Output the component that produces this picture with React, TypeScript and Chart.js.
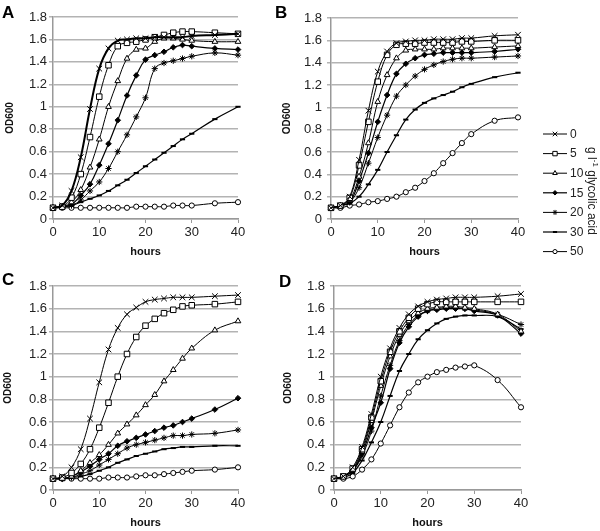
import React, { useEffect, useRef } from "react";
import { Chart, registerables } from "chart.js";
import { drawPoint } from "chart.js/helpers";

Chart.register(...registerables);

// ---------- DATA ----------
const hours = [0, 2, 4, 6, 8, 10, 12, 14, 16, 18, 20, 22, 24, 26, 28, 30, 35, 40];
const concentrations = ["0", "5", "10", "15", "20", "30", "50"];
const xTickStep = 10;
const yTickStep = 0.2;

const panelA = [
  [0.1, 0.12, 0.25, 0.55, 0.98, 1.34, 1.52, 1.59, 1.6, 1.61, 1.61, 1.62, 1.62, 1.62, 1.62, 1.63, 1.64, 1.65],
  [0.1, 0.11, 0.19, 0.4, 0.73, 1.09, 1.37, 1.54, 1.57, 1.58, 1.6, 1.62, 1.64, 1.66, 1.67, 1.67, 1.66, 1.65],
  [0.1, 0.11, 0.15, 0.26, 0.46, 0.71, 1.0, 1.23, 1.43, 1.51, 1.52, 1.58, 1.61, 1.61, 1.6, 1.59, 1.58, 1.58],
  [0.1, 0.11, 0.13, 0.21, 0.31, 0.48, 0.67, 0.88, 1.1, 1.28, 1.42, 1.46, 1.49, 1.53, 1.55, 1.54, 1.52, 1.51],
  [0.1, 0.11, 0.12, 0.17, 0.25, 0.33, 0.45, 0.6, 0.75, 0.91, 1.08, 1.34, 1.39, 1.41, 1.43, 1.45, 1.48, 1.46],
  [0.1, 0.11, 0.12, 0.15, 0.18, 0.21, 0.25, 0.3, 0.35, 0.41, 0.47, 0.53, 0.59, 0.65, 0.71, 0.76, 0.89, 1.0],
  [0.1, 0.1, 0.1, 0.1, 0.1, 0.1, 0.1, 0.1, 0.1, 0.11, 0.11, 0.11, 0.11, 0.12, 0.12, 0.12, 0.14, 0.15],
];

const panelB = [
  [0.1, 0.12, 0.2, 0.53, 0.97, 1.32, 1.5, 1.575, 1.59, 1.6, 1.6, 1.61, 1.61, 1.61, 1.62, 1.62, 1.64, 1.65],
  [0.1, 0.12, 0.19, 0.48, 0.87, 1.23, 1.47, 1.56, 1.57, 1.57, 1.58, 1.58, 1.58, 1.58, 1.59, 1.59, 1.6, 1.6],
  [0.1, 0.12, 0.17, 0.38, 0.68, 1.05, 1.29, 1.44, 1.51, 1.52, 1.52, 1.52, 1.53, 1.53, 1.53, 1.53, 1.54, 1.55],
  [0.1, 0.12, 0.15, 0.34, 0.59, 0.87, 1.11, 1.3, 1.39, 1.44, 1.47, 1.48, 1.49, 1.49, 1.49, 1.49, 1.5, 1.52],
  [0.1, 0.12, 0.15, 0.28, 0.5, 0.73, 0.93, 1.1, 1.2, 1.28, 1.34, 1.38, 1.41, 1.43, 1.44, 1.44, 1.45, 1.46],
  [0.1, 0.12, 0.14, 0.2, 0.31, 0.44, 0.6, 0.75, 0.89, 0.98, 1.04, 1.08, 1.11, 1.14, 1.18, 1.21, 1.27, 1.31],
  [0.1, 0.1, 0.12, 0.13, 0.15, 0.16, 0.18, 0.2, 0.24, 0.28, 0.34, 0.41, 0.5, 0.59, 0.68, 0.76, 0.88, 0.91],
];

const panelC = [
  [0.1, 0.12, 0.2, 0.36, 0.63, 0.95, 1.24, 1.43, 1.55, 1.61, 1.66, 1.68, 1.69, 1.7, 1.7, 1.7, 1.71, 1.72],
  [0.1, 0.11, 0.15, 0.23, 0.36, 0.55, 0.77, 1.0, 1.2, 1.35, 1.45, 1.51, 1.56, 1.59, 1.62, 1.63, 1.64, 1.66],
  [0.1, 0.1, 0.12, 0.17, 0.24, 0.31, 0.4, 0.5, 0.58, 0.66, 0.75, 0.84, 0.96, 1.06, 1.16, 1.25, 1.41, 1.49],
  [0.1, 0.1, 0.12, 0.16, 0.21, 0.27, 0.32, 0.39, 0.43, 0.46, 0.49, 0.52, 0.55, 0.57, 0.6, 0.63, 0.71, 0.81],
  [0.1, 0.1, 0.11, 0.14, 0.17, 0.22, 0.27, 0.32, 0.37, 0.4, 0.42, 0.44, 0.46, 0.48, 0.48, 0.49, 0.5, 0.53],
  [0.1, 0.1, 0.11, 0.12, 0.14, 0.17, 0.2, 0.24, 0.27, 0.3, 0.32, 0.34, 0.36, 0.37, 0.38, 0.38, 0.39, 0.39],
  [0.1, 0.1, 0.1, 0.1, 0.1, 0.1, 0.11, 0.11, 0.11, 0.12, 0.13, 0.13, 0.14, 0.15, 0.16, 0.17, 0.18, 0.2],
];

const panelD = [
  [0.1, 0.12, 0.2, 0.38, 0.67, 1.0, 1.25, 1.43, 1.55, 1.62, 1.66, 1.68, 1.69, 1.7, 1.7, 1.7, 1.71, 1.73],
  [0.1, 0.12, 0.19, 0.36, 0.64, 0.96, 1.22, 1.4, 1.52, 1.6, 1.64, 1.66, 1.66, 1.66, 1.66, 1.66, 1.66, 1.66],
  [0.1, 0.12, 0.18, 0.34, 0.61, 0.92, 1.18, 1.37, 1.49, 1.56, 1.6, 1.61, 1.62, 1.62, 1.61, 1.6, 1.55, 1.4],
  [0.1, 0.12, 0.17, 0.32, 0.55, 0.77, 1.07, 1.3, 1.44, 1.53, 1.58, 1.59, 1.6, 1.6, 1.6, 1.58, 1.54, 1.38],
  [0.1, 0.12, 0.17, 0.3, 0.52, 0.83, 1.1, 1.32, 1.46, 1.54, 1.58, 1.6, 1.61, 1.61, 1.6, 1.59, 1.55, 1.46],
  [0.1, 0.11, 0.15, 0.26, 0.42, 0.6, 0.83, 1.05, 1.2, 1.33, 1.41, 1.47, 1.51, 1.53, 1.54, 1.54, 1.53, 1.42],
  [0.1, 0.1, 0.12, 0.18, 0.27, 0.41, 0.57, 0.73, 0.86, 0.95, 1.0, 1.04, 1.06, 1.08, 1.09, 1.1, 0.97, 0.73],
];

// ---------- STYLES ----------
const FONT = "'Liberation Sans', Arial, Helvetica, sans-serif";
Chart.defaults.font.family = FONT;

const seriesStyles = [
  { pointStyle: "crossRot", radius: 4, fill: "#000", pbw: 1, lw: 1 },
  { pointStyle: "rect", radius: 3.9, fill: "#fff", pbw: 1, lw: 1 },
  { pointStyle: "triangle", radius: 3.3, fill: "#fff", pbw: 1, lw: 1 },
  { pointStyle: "rectRot", radius: 2.8, fill: "#000", pbw: 1, lw: 1.2 },
  { pointStyle: "star", radius: 3.1, fill: "#000", pbw: 1, lw: 1 },
  { pointStyle: "line", radius: 2.6, fill: "#000", pbw: 2, lw: 1.2 },
  { pointStyle: "circle", radius: 2.6, fill: "#fff", pbw: 1, lw: 1 },
];

type PanelCfg = {
  letter: string;
  values: number[][];
  left: number;
  top: number;
  width: number;
  height: number;
  padL: number;
  padR: number;
  padT: number;
  yWidth: number;
  xHeight: number;
  yTitlePad: number;
  xTitlePad: number;
  yTickPad: number;
  xTickPad: number;
  letterX: number;
  letterY: number;
  legend?: boolean;
  boldFirst?: boolean;
};

const panels: PanelCfg[] = [
  { letter: "A", values: panelA, left: 0, top: 0, width: 250, height: 260, padL: 0, padR: 12, padT: 17, yWidth: 53, xHeight: 41, yTitlePad: 4, xTitlePad: 1.4, yTickPad: 2, xTickPad: 2, letterX: 2, letterY: 4, boldFirst: true },
  { letter: "B", values: panelB, left: 250, top: 0, width: 350, height: 260, padL: 27, padR: 82, padT: 18, yWidth: 54, xHeight: 41, yTitlePad: 4, xTitlePad: 1.4, yTickPad: 5, xTickPad: 2, letterX: 275, letterY: 4, legend: true },
  { letter: "C", values: panelC, left: 0, top: 260, width: 250, height: 271, padL: 0, padR: 12, padT: 26, yWidth: 53, xHeight: 41, yTitlePad: 2.5, xTitlePad: 1.4, yTickPad: 2, xTickPad: 2, letterX: 2, letterY: 271 },
  { letter: "D", values: panelD, left: 250, top: 260, width: 350, height: 271, padL: 30, padR: 79, padT: 26, yWidth: 54, xHeight: 41, yTitlePad: 2, xTitlePad: 1.4, yTickPad: 5, xTickPad: 2, letterX: 279, letterY: 273 },
];

// legend drawn on panel B canvas (coordinates relative to that canvas)
const legendPlugin = {
  id: "sideLegend",
  afterDraw(chart: any) {
    const ctx: CanvasRenderingContext2D = chart.ctx;
    const x1 = 293, x2 = 317, xm = 305, xt = 320, y0 = 134, step = 19.6;
    chart.data.datasets.forEach((ds: any, i: number) => {
      const y = y0 + i * step;
      ctx.save();
      ctx.strokeStyle = "#000";
      ctx.lineWidth = ds.borderWidth;
      ctx.beginPath();
      ctx.moveTo(x1, y);
      ctx.lineTo(x2, y);
      ctx.stroke();
      ctx.fillStyle = ds.pointBackgroundColor;
      ctx.strokeStyle = "#000";
      ctx.lineWidth = ds.pointBorderWidth;
      drawPoint(ctx, { pointStyle: ds.pointStyle, radius: ds.pointRadius * 0.8, rotation: 0, borderWidth: ds.pointBorderWidth } as any, xm, y);
      ctx.fillStyle = "#222";
      ctx.font = `12px ${FONT}`;
      ctx.textBaseline = "middle";
      ctx.textAlign = "left";
      ctx.fillText(ds.label, xt, y + 0.5);
      ctx.restore();
    });
    // rotated unit label
    ctx.save();
    ctx.translate(341, 191);
    ctx.rotate(Math.PI / 2);
    ctx.fillStyle = "#222";
    ctx.textBaseline = "middle";
    ctx.textAlign = "left";
    const big = `12px ${FONT}`;
    const small = `8px ${FONT}`;
    const p1 = "g l";
    const p2 = "-1";
    const p3 = " glycolic acid";
    ctx.font = big;
    const w1 = ctx.measureText(p1).width;
    const w3 = ctx.measureText(p3).width;
    ctx.font = small;
    const w2 = ctx.measureText(p2).width;
    const total = w1 + w2 + w3;
    let x = -total / 2;
    ctx.font = big;
    ctx.fillText(p1, x, 0);
    x += w1;
    ctx.font = small;
    ctx.fillText(p2, x, -4);
    x += w2;
    ctx.font = big;
    ctx.fillText(p3, x, 0);
    ctx.restore();
  },
};

function Panel({ cfg }: { cfg: PanelCfg }) {
  const ref = useRef<HTMLCanvasElement>(null);
  useEffect(() => {
    if (!ref.current) return;
    const datasets = concentrations.map((lab, i) => {
      const st = seriesStyles[i];
      return {
        label: lab,
        data: hours.map((h, j) => ({ x: h, y: cfg.values[i][j] })),
        borderColor: "#000",
        backgroundColor: "#000",
        borderWidth: cfg.boldFirst && i === 0 ? 2 : st.lw,
        pointStyle: st.pointStyle,
        pointRadius: st.radius,
        pointBackgroundColor: st.fill,
        pointBorderColor: "#000",
        pointBorderWidth: st.pbw,
        tension: 0.4,
        fill: false,
        clip: false as any,
      };
    });
    const chart = new Chart(ref.current, {
      type: "line",
      data: { datasets: datasets as any },
      options: {
        animation: false,
        responsive: false,
        devicePixelRatio: 1,
        events: [],
        layout: { padding: { left: cfg.padL, right: cfg.padR, top: cfg.padT, bottom: 0 } },
        plugins: { legend: { display: false }, tooltip: { enabled: false } },
        scales: {
          x: {
            type: "linear",
            min: 0,
            max: 40,
            ticks: { stepSize: xTickStep, padding: cfg.xTickPad, color: "#222", font: { size: 13 }, maxRotation: 0 },
            grid: { drawOnChartArea: false, drawTicks: true, tickLength: 4, color: "#999", lineWidth: 1 },
            border: { color: "#999", width: 1.5 },
            title: { display: true, text: "hours", color: "#111", font: { size: 11, weight: "bold" }, padding: { top: 0, bottom: cfg.xTitlePad } },
            afterFit: (s: any) => { s.height = cfg.xHeight; },
          },
          y: {
            type: "linear",
            min: 0,
            max: 1.8,
            ticks: { stepSize: yTickStep, padding: cfg.yTickPad, color: "#222", font: { size: 13 }, callback: (v: any) => String(Math.round(Number(v) * 10) / 10) },
            grid: { color: "#b3b3b3", lineWidth: 1.5, tickLength: 4, drawTicks: true },
            border: { color: "#999", width: 1.5 },
            title: { display: true, text: "OD600", color: "#111", font: { size: 10, weight: "bold" }, padding: { top: cfg.yTitlePad, bottom: 0 } },
            afterFit: (s: any) => { s.width = cfg.yWidth; },
          },
        },
      } as any,
      plugins: cfg.legend ? [legendPlugin as any] : [],
    });
    return () => chart.destroy();
  }, [cfg]);
  return (
    <>
      <canvas
        ref={ref}
        width={cfg.width}
        height={cfg.height}
        style={{ position: "absolute", left: cfg.left, top: cfg.top, width: cfg.width, height: cfg.height }}
      />
      <div
        style={{
          position: "absolute",
          left: cfg.letterX,
          top: cfg.letterY,
          font: `bold 17px ${FONT}`,
          lineHeight: "17px",
          color: "#000",
        }}
      >
        {cfg.letter}
      </div>
    </>
  );
}

export default function App() {
  return (
    <div style={{ position: "absolute", left: 0, top: 0, width: 600, height: 531, background: "#fff", overflow: "hidden" }}>
      {panels.map((p) => (
        <Panel key={p.letter} cfg={p} />
      ))}
    </div>
  );
}
